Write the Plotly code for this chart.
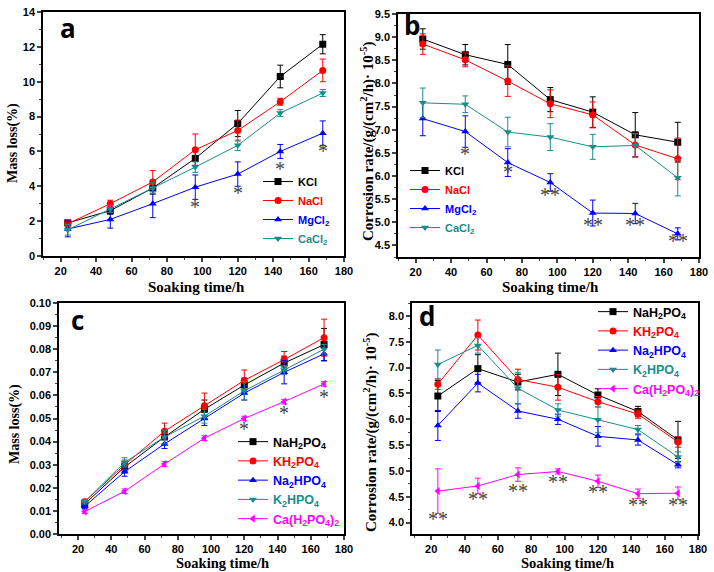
import plotly.graph_objects as go

# ---------------- data ----------------
hours = [24, 48, 72, 96, 120, 144, 168]

# panel a: mass loss (%), chlorides
a_names = ["KCl", "NaCl", "MgCl<sub>2</sub>", "CaCl<sub>2</sub>"]
a_KCl = [1.9, 2.6, 3.9, 5.6, 7.6, 10.3, 12.15]
a_NaCl = [1.85, 3.0, 4.25, 6.1, 7.2, 8.85, 10.65]
a_MgCl2 = [1.55, 2.1, 3.0, 3.95, 4.7, 6.0, 7.05]
a_CaCl2 = [1.5, 2.7, 3.9, 5.1, 6.35, 8.2, 9.35]
a_KCl_err = [0.15, 0.2, 0.35, 0.4, 0.75, 0.65, 0.55]
a_NaCl_err = [0.2, 0.2, 0.65, 0.9, 0.6, 0.2, 0.65]
a_MgCl2_err = [0.45, 0.5, 0.8, 0.7, 0.7, 0.4, 0.7]
a_CaCl2_err = [0.3, 0.2, 0.3, 0.3, 0.3, 0.2, 0.2]
a_star_x = [96, 120, 144, 168]
a_star_y = [2.8, 3.6, 5.0, 6.0]
a_star_txt = ["*", "*", "*", "*"]

# panel b: corrosion rate, chlorides
b_KCl = [8.96, 8.62, 8.41, 7.65, 7.38, 6.89, 6.73]
b_NaCl = [8.85, 8.51, 8.05, 7.56, 7.32, 6.67, 6.37]
b_MgCl2 = [7.24, 6.96, 6.29, 5.86, 5.2, 5.19, 4.75]
b_CaCl2 = [7.58, 7.55, 6.95, 6.84, 6.63, 6.66, 5.96]
b_KCl_err = [0.22, 0.22, 0.43, 0.26, 0.33, 0.48, 0.43]
b_NaCl_err = [0.22, 0.15, 0.33, 0.3, 0.28, 0.25, 0.45]
b_MgCl2_err = [0.37, 0.34, 0.3, 0.19, 0.28, 0.22, 0.13]
b_CaCl2_err = [0.32, 0.18, 0.32, 0.29, 0.27, 0.25, 0.39]
b_star_x = [48, 72, 96, 120, 144, 168]
b_star_y = [6.48, 6.08, 5.58, 4.95, 4.95, 4.6]
b_star_txt = ["*", "*", "**", "**", "**", "**"]

# panel c: mass loss (%), phosphates
p_names = ["NaH<sub>2</sub>PO<sub>4</sub>", "KH<sub>2</sub>PO<sub>4</sub>",
           "Na<sub>2</sub>HPO<sub>4</sub>", "K<sub>2</sub>HPO<sub>4</sub>",
           "Ca(H<sub>2</sub>PO<sub>4</sub>)<sub>2</sub>"]
c_NaH2PO4 = [0.013, 0.029, 0.042, 0.054, 0.0645, 0.074, 0.082]
c_KH2PO4 = [0.014, 0.030, 0.0445, 0.0555, 0.0665, 0.0755, 0.085]
c_Na2HPO4 = [0.012, 0.027, 0.039, 0.050, 0.061, 0.070, 0.078]
c_K2HPO4 = [0.014, 0.031, 0.042, 0.051, 0.062, 0.071, 0.080]
c_CaH2PO4 = [0.0097, 0.0185, 0.0303, 0.0415, 0.050, 0.0573, 0.065]
c_NaH2PO4_err = [0.001, 0.002, 0.003, 0.004, 0.003, 0.003, 0.007]
c_KH2PO4_err = [0.001, 0.002, 0.0035, 0.0055, 0.0045, 0.0035, 0.008]
c_Na2HPO4_err = [0.001, 0.002, 0.002, 0.003, 0.003, 0.005, 0.003]
c_K2HPO4_err = [0.001, 0.002, 0.003, 0.003, 0.004, 0.002, 0.002]
c_CaH2PO4_err = [0.0008, 0.001, 0.001, 0.001, 0.001, 0.001, 0.001]
c_star_x = [120, 144, 168]
c_star_y = [0.0455, 0.0525, 0.0595]
c_star_txt = ["*", "*", "*"]

# panel d: corrosion rate, phosphates
d_NaH2PO4 = [6.45, 6.98, 6.72, 6.87, 6.47, 6.15, 5.6]
d_KH2PO4 = [6.68, 7.63, 6.77, 6.62, 6.34, 6.1, 5.56]
d_Na2HPO4 = [5.88, 6.7, 6.16, 6.0, 5.67, 5.6, 5.12]
d_K2HPO4 = [7.06, 7.43, 6.6, 6.18, 5.99, 5.8, 5.27]
d_CaH2PO4 = [4.61, 4.71, 4.93, 4.99, 4.8, 4.56, 4.57]
d_NaH2PO4_err = [0.3, 0.27, 0.15, 0.41, 0.12, 0.1, 0.36]
d_KH2PO4_err = [0.1, 0.29, 0.2, 0.25, 0.1, 0.08, 0.1]
d_Na2HPO4_err = [0.29, 0.17, 0.14, 0.1, 0.19, 0.1, 0.06]
d_K2HPO4_err = [0.28, 0.15, 0.3, 0.12, 0.25, 0.08, 0.1]
d_CaH2PO4_err = [0.43, 0.15, 0.13, 0.05, 0.12, 0.09, 0.12]
d_star_x = [24, 48, 72, 96, 120, 144, 168]
d_star_y = [4.07, 4.45, 4.62, 4.78, 4.6, 4.35, 4.35]
d_star_txt = ["**"] * 7

# ---------------- style ----------------
BLACK, RED, BLUE, TEAL, MAG = "#000000", "#ff0000", "#0000ff", "#1a8c8c", "#ff00ff"
SANS = "Liberation Sans, Arial, sans-serif"
SERIF = "Liberation Serif, Times New Roman, serif"
W, H = 714, 572

fig = go.Figure()

def add_series(xref, yref, legend, name, y, err, color, symbol, size=7):
    fig.add_trace(go.Scatter(
        x=hours, y=y, mode="lines+markers",
        name=f'<span style="color:{color}">{name}</span>',
        line=dict(color=color, width=1),
        marker=dict(color=color, symbol=symbol, size=size),
        error_y=dict(type="data", array=err, color=color, thickness=1, width=3),
        xaxis=xref, yaxis=yref, legend=legend, legendgroup=legend + name,
    ))

CL_COLORS = [BLACK, RED, BLUE, TEAL]
CL_SYMS = ["square", "circle", "triangle-up", "triangle-down"]
P_COLORS = [BLACK, RED, BLUE, TEAL, MAG]
P_SYMS = ["square", "circle", "triangle-up", "triangle-down", "triangle-left"]

for nm, y, e, c, s in zip(a_names, [a_KCl, a_NaCl, a_MgCl2, a_CaCl2],
                          [a_KCl_err, a_NaCl_err, a_MgCl2_err, a_CaCl2_err], CL_COLORS, CL_SYMS):
    add_series("x", "y", "legend", nm, y, e, c, s)
for nm, y, e, c, s in zip(a_names, [b_KCl, b_NaCl, b_MgCl2, b_CaCl2],
                          [b_KCl_err, b_NaCl_err, b_MgCl2_err, b_CaCl2_err], CL_COLORS, CL_SYMS):
    add_series("x2", "y2", "legend2", nm, y, e, c, s)
for nm, y, e, c, s in zip(p_names, [c_NaH2PO4, c_KH2PO4, c_Na2HPO4, c_K2HPO4, c_CaH2PO4],
                          [c_NaH2PO4_err, c_KH2PO4_err, c_Na2HPO4_err, c_K2HPO4_err, c_CaH2PO4_err],
                          P_COLORS, P_SYMS):
    add_series("x3", "y3", "legend3", nm, y, e, c, s)
for nm, y, e, c, s in zip(p_names, [d_NaH2PO4, d_KH2PO4, d_Na2HPO4, d_K2HPO4, d_CaH2PO4],
                          [d_NaH2PO4_err, d_KH2PO4_err, d_Na2HPO4_err, d_K2HPO4_err, d_CaH2PO4_err],
                          P_COLORS, P_SYMS):
    add_series("x4", "y4", "legend4", nm, y, e, c, s)

# significance asterisks
for xr, yr, xs, ys, ts in [("x", "y", a_star_x, a_star_y, a_star_txt),
                           ("x2", "y2", b_star_x, b_star_y, b_star_txt),
                           ("x3", "y3", c_star_x, c_star_y, c_star_txt),
                           ("x4", "y4", d_star_x, d_star_y, d_star_txt)]:
    for xv, yv, t in zip(xs, ys, ts):
        fig.add_annotation(x=xv, y=yv, xref=xr, yref=yr, text=t, showarrow=False,
                           xanchor="center", yanchor="middle",
                           font=dict(family=SERIF, size=20, color="#444444"))

def px(x, y):
    return x / W, 1 - y / H

# panel letters
for (lx, ly), t in [((68, 28), "a"), ((412, 25), "b"), ((77, 320), "c"), ((427, 316), "d")]:
    xx, yy = px(lx, ly)
    fig.add_annotation(x=xx, y=yy, xref="paper", yref="paper", text=t, showarrow=False,
                       xanchor="center", yanchor="middle",
                       font=dict(family="Open Sans, sans-serif", size=26, color="black", weight="bold"))

# axis titles
CR = "Corrosion rate/(g/(cm<sup>2</sup>/h)· 10<sup>-5</sup>)"
for (tx, ty), t, ang, fs in [((196, 287), "Soaking time/h", 0, 15), ((550, 287), "Soaking time/h", 0, 15),
                             ((222, 563), "Soaking time/h", 0, 14.5), ((567, 563), "Soaking time/h", 0, 14.5),
                             ((13, 143), "Mass loss(%)", -90, 14), ((15, 424), "Mass loss(%)", -90, 14),
                             ((368, 141), CR, -90, 15), ((370, 432), CR, -90, 15)]:
    xx, yy = px(tx, ty)
    fig.add_annotation(x=xx, y=yy, xref="paper", yref="paper", text=t, showarrow=False,
                       xanchor="center", yanchor="middle", textangle=ang,
                       font=dict(family=SERIF, size=fs, color="black", weight="bold"))

def xaxis(domain, anchor, lo):
    return dict(domain=domain, anchor=anchor, range=[lo, 180], automargin=False,
                dtick=20, tick0=0, ticks="outside", ticklen=4, tickwidth=1.5,
                minor=dict(ticks="outside", ticklen=2.5, dtick=10, tickwidth=1),
                showline=True, linewidth=1.5, linecolor="black", mirror=True, showgrid=False,
                zeroline=False,
                tickfont=dict(family=SANS, size=11, color="black", weight="bold"))

def yaxis(domain, anchor, rng, dtick, mdtick, fmt):
    return dict(domain=domain, anchor=anchor, range=rng, dtick=dtick, tick0=0, tickformat=fmt,
                automargin=False, ticks="outside", ticklen=4, tickwidth=1.5,
                minor=dict(ticks="outside", ticklen=2.5, dtick=mdtick, tickwidth=1),
                showline=True, linewidth=1.5, linecolor="black", mirror=True, showgrid=False,
                zeroline=False,
                tickfont=dict(family=SANS, size=11, color="black", weight="bold"))

def leg(x, y, size):
    xx, yy = px(x, y)
    return dict(x=xx, y=yy, xanchor="left", yanchor="top", bgcolor="rgba(0,0,0,0)",
                font=dict(family=SANS, size=size, weight="bold"), tracegroupgap=0, itemwidth=30)

fig.update_layout(
    width=W, height=H, margin=dict(l=0, r=0, t=0, b=0),
    paper_bgcolor="white", plot_bgcolor="white",
    showlegend=True,
    xaxis=xaxis([43 / W, 344 / W], "y", 10),
    yaxis=yaxis([1 - 256 / H, 1 - 12 / H], "x", [0, 14], 2, 1, "d"),
    xaxis2=xaxis([398 / W, 699 / W], "y2", 10),
    yaxis2=yaxis([1 - 257 / H, 1 - 14 / H], "x2", [4.25, 9.5], 0.5, 0.25, ".1f"),
    xaxis3=xaxis([59 / W, 344 / W], "y3", 8.5),
    yaxis3=yaxis([1 - 534 / H, 1 - 303 / H], "x3", [0, 0.1], 0.01, 0.005, ".2f"),
    xaxis4=xaxis([412 / W, 698 / W], "y4", 8.5),
    yaxis4=yaxis([1 - 534 / H, 1 - 303 / H], "x4", [3.78, 8.25], 0.5, 0.25, ".1f"),
    legend=leg(258, 167, 11),
    legend2=leg(405, 156, 11),
    legend3=leg(233, 427, 12.5),
    legend4=leg(593, 297, 12.5),
)

fig.write_html("out.html", config={"displayModeBar": False},
               post_script="document.body.style.margin='0';")
